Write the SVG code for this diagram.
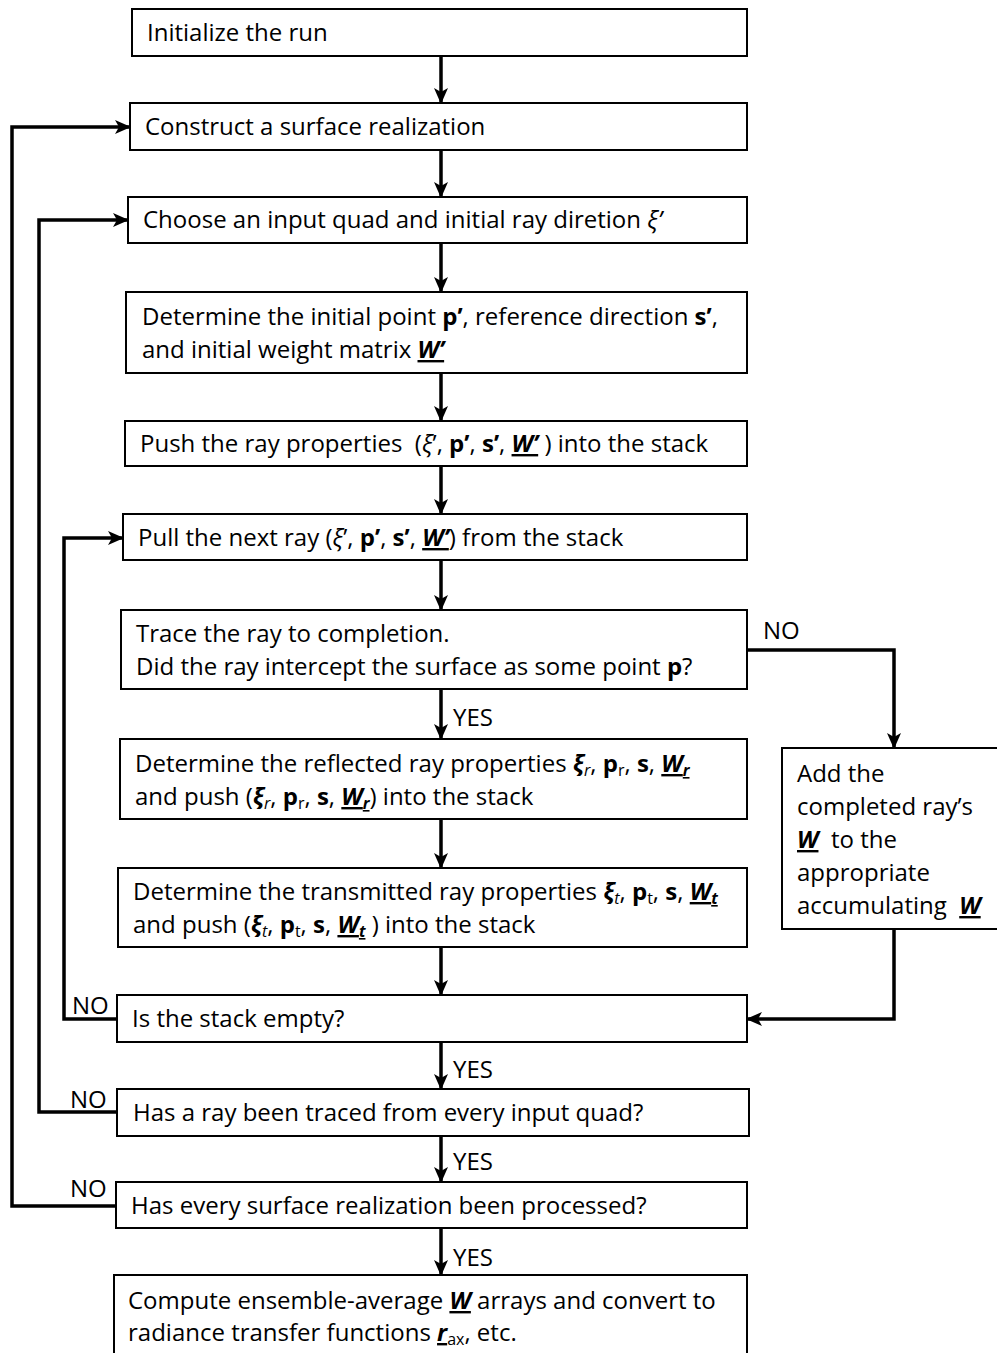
<svg xmlns="http://www.w3.org/2000/svg" width="997" height="1353" viewBox="0 0 997 1353">
<style>
.box{fill:#fff;stroke:#000;stroke-width:2}
.t{font-family:"Open Sans","Liberation Sans",sans-serif;font-size:24px;fill:#000}
.pre{white-space:pre}
.lbl{font-family:"Open Sans","Liberation Sans",sans-serif;font-size:24px;fill:#000}
.b{font-weight:bold}
.i{font-style:italic}
.u{text-decoration:underline}
.sub{font-size:16px}
.c{fill:none;stroke:#000;stroke-width:3.5}
</style>
<defs>
<marker id="ah" markerUnits="userSpaceOnUse" markerWidth="16" markerHeight="16" refX="15" refY="8" orient="auto">
<path d="M0,1 L16,8 L0,15 L4,8 z" fill="#000"/>
</marker>
</defs>
<rect width="997" height="1353" fill="#fff"/>
<g id="connectors">
<line class="c" x1="441" y1="56" x2="441" y2="103" marker-end="url(#ah)"/>
<line class="c" x1="441" y1="150" x2="441" y2="197" marker-end="url(#ah)"/>
<line class="c" x1="441" y1="243" x2="441" y2="292" marker-end="url(#ah)"/>
<line class="c" x1="441" y1="373" x2="441" y2="421" marker-end="url(#ah)"/>
<line class="c" x1="441" y1="466" x2="441" y2="514" marker-end="url(#ah)"/>
<line class="c" x1="441" y1="560" x2="441" y2="610" marker-end="url(#ah)"/>
<line class="c" x1="441" y1="689" x2="441" y2="739" marker-end="url(#ah)"/>
<line class="c" x1="441" y1="819" x2="441" y2="868" marker-end="url(#ah)"/>
<line class="c" x1="441" y1="947" x2="441" y2="995" marker-end="url(#ah)"/>
<line class="c" x1="441" y1="1042" x2="441" y2="1089" marker-end="url(#ah)"/>
<line class="c" x1="441" y1="1136" x2="441" y2="1182" marker-end="url(#ah)"/>
<line class="c" x1="441" y1="1228" x2="441" y2="1275" marker-end="url(#ah)"/>
<polyline class="c" points="117,1019 64,1019 64,538 123,538" marker-end="url(#ah)"/>
<polyline class="c" points="117,1112 39,1112 39,220 128,220" marker-end="url(#ah)"/>
<polyline class="c" points="116,1206 12,1206 12,127 130,127" marker-end="url(#ah)"/>
<polyline class="c" points="747,650 894,650 894,748" marker-end="url(#ah)"/>
<polyline class="c" points="894,929 894,1019 747,1019" marker-end="url(#ah)"/>
<text class="lbl" x="763" y="639">NO</text>
<text class="lbl" x="453" y="726">YES</text>
<text class="lbl" x="453" y="1078">YES</text>
<text class="lbl" x="453" y="1170">YES</text>
<text class="lbl" x="453" y="1266">YES</text>
<text class="lbl" x="72" y="1014">NO</text>
<text class="lbl" x="70" y="1108">NO</text>
<text class="lbl" x="70" y="1197">NO</text>
</g>
<g id="n1"><rect class="box" x="132" y="9" width="615" height="47"/>
<text class="t" x="147" y="41">Initialize the run</text></g>
<g id="n2"><rect class="box" x="130" y="103" width="617" height="47"/>
<text class="t" x="145" y="135">Construct a surface realization</text></g>
<g id="n3"><rect class="box" x="128" y="197" width="619" height="46"/>
<text class="t" x="143" y="228">Choose an input quad and initial ray diretion <tspan class="i">ξ’</tspan></text></g>
<g id="n4"><rect class="box" x="126" y="292" width="621" height="81"/>
<text class="t" x="142" y="325">Determine the initial point <tspan class="b">p’</tspan>, reference direction <tspan class="b">s’</tspan>,</text>
<text class="t" x="142" y="358">and initial weight matrix <tspan class="b i u">W’</tspan></text></g>
<g id="n5"><rect class="box" x="125" y="421" width="622" height="45"/>
<text class="t pre" x="140" y="452">Push the ray properties  (<tspan class="i">ξ</tspan>’, <tspan class="b">p’</tspan>, <tspan class="b">s’</tspan>, <tspan class="b i u">W’</tspan> ) into the stack</text></g>
<g id="n6"><rect class="box" x="123" y="514" width="624" height="46"/>
<text class="t" x="138" y="546">Pull the next ray (<tspan class="i">ξ</tspan>’, <tspan class="b">p’</tspan>, <tspan class="b">s’</tspan>, <tspan class="b i u">W’</tspan>) from the stack</text></g>
<g id="n7"><rect class="box" x="121" y="610" width="626" height="79"/>
<text class="t" x="136" y="642">Trace the ray to completion.</text>
<text class="t" x="136" y="675">Did the ray intercept the surface as some point <tspan class="b">p</tspan>?</text></g>
<g id="n8"><rect class="box" x="120" y="739" width="627" height="80"/>
<text class="t" x="135" y="772">Determine the reflected ray properties <tspan class="b i">ξ</tspan><tspan class="i sub" dy="4">r</tspan><tspan dy="-4">, </tspan><tspan class="b">p</tspan><tspan class="sub" dy="4">r</tspan><tspan dy="-4">, </tspan><tspan class="b">s</tspan>, <tspan class="b i u">W<tspan class="sub" dy="4">r</tspan></tspan></text>
<text class="t" x="135" y="805">and push (<tspan class="b i">ξ</tspan><tspan class="i sub" dy="4">r</tspan><tspan dy="-4">, </tspan><tspan class="b">p</tspan><tspan class="sub" dy="4">r</tspan><tspan dy="-4">, </tspan><tspan class="b">s</tspan>, <tspan class="b i u">W<tspan class="sub" dy="4">r</tspan></tspan><tspan dy="-4">) into the stack</tspan></text></g>
<g id="n9"><rect class="box" x="118" y="868" width="629" height="79"/>
<text class="t" x="133" y="900">Determine the transmitted ray properties <tspan class="b i">ξ</tspan><tspan class="i sub" dy="4">t</tspan><tspan dy="-4">, </tspan><tspan class="b">p</tspan><tspan class="sub" dy="4">t</tspan><tspan dy="-4">, </tspan><tspan class="b">s</tspan>, <tspan class="b i u">W<tspan class="sub" dy="4">t</tspan></tspan></text>
<text class="t" x="133" y="933">and push (<tspan class="b i">ξ</tspan><tspan class="i sub" dy="4">t</tspan><tspan dy="-4">, </tspan><tspan class="b">p</tspan><tspan class="sub" dy="4">t</tspan><tspan dy="-4">, </tspan><tspan class="b">s</tspan>, <tspan class="b i u">W<tspan class="sub" dy="4">t</tspan></tspan><tspan dy="-4"> ) into the stack</tspan></text></g>
<g id="n10"><rect class="box" x="117" y="995" width="630" height="47"/>
<text class="t" x="132" y="1027">Is the stack empty?</text></g>
<g id="n11"><rect class="box" x="117" y="1089" width="632" height="47"/>
<text class="t" x="133" y="1121">Has a ray been traced from every input quad?</text></g>
<g id="n12"><rect class="box" x="116" y="1182" width="631" height="46"/>
<text class="t" x="131" y="1214">Has every surface realization been processed?</text></g>
<g id="n13"><rect class="box" x="114" y="1275" width="633" height="90"/>
<text class="t" x="128" y="1309">Compute ensemble-average <tspan class="b i u">W</tspan> arrays and convert to</text>
<text class="t" x="128" y="1341">radiance transfer functions <tspan class="b i u">r</tspan><tspan class="sub" dy="4">ax</tspan><tspan dy="-4">, etc.</tspan></text></g>
<g id="n14"><rect class="box" x="782" y="748" width="220" height="181"/>
<text class="t" x="797" y="782">Add the</text>
<text class="t" x="797" y="815">completed ray’s</text>
<text class="t pre" x="797" y="848"><tspan class="b i u">W</tspan>  to the</text>
<text class="t" x="797" y="881">appropriate</text>
<text class="t pre" x="797" y="914">accumulating  <tspan class="b i u">W</tspan></text></g>
</svg>
